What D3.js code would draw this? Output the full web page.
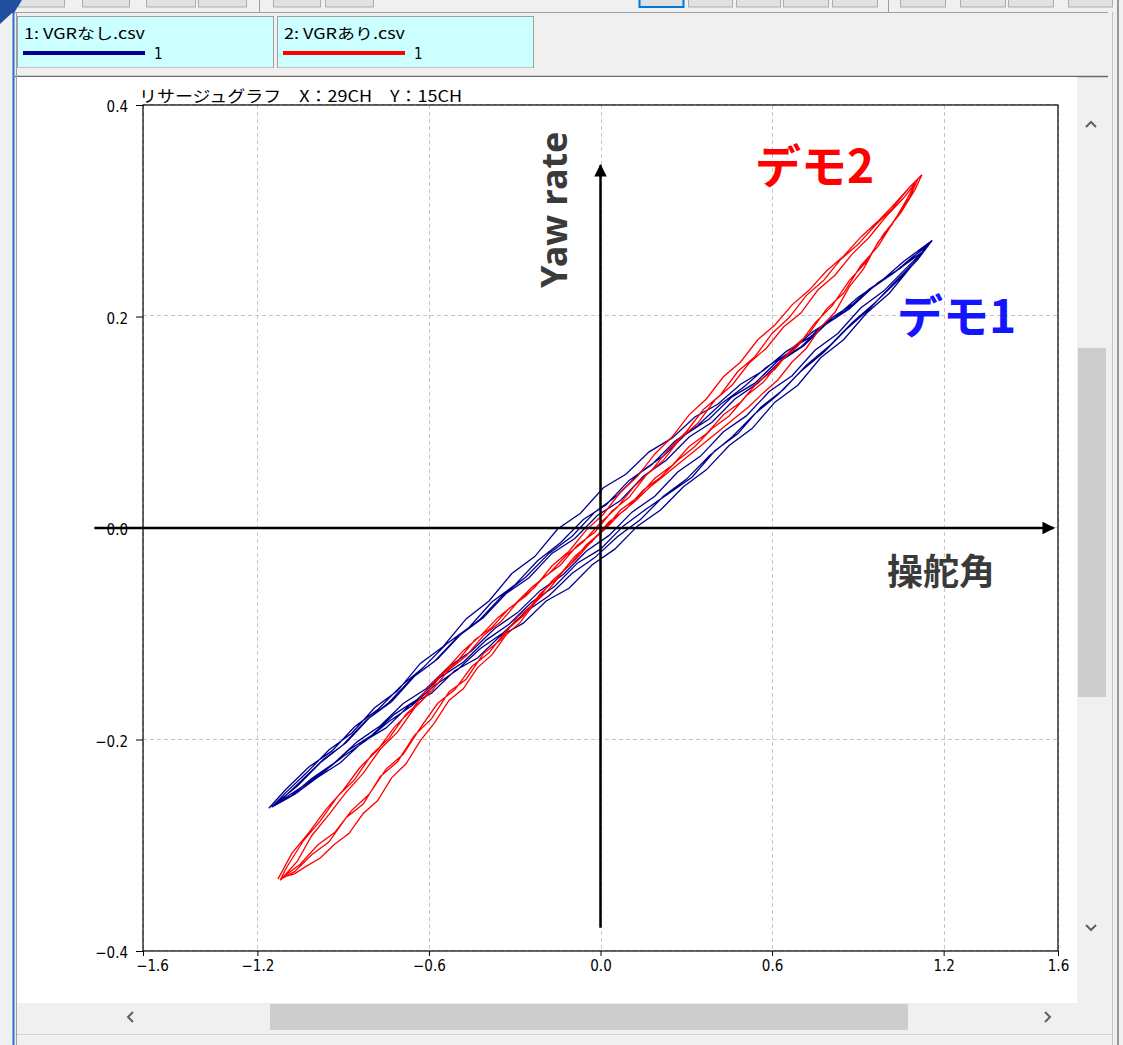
<!DOCTYPE html>
<html>
<head>
<meta charset="utf-8">
<script src="https://cdn.jsdelivr.net/npm/d3@7"></script>
<style>
  html, body { margin: 0; padding: 0; background: #f0f0f0; }
  svg { display: block; }
</style>
</head>
<body>
<svg id="lissajous" width="1123" height="1045"></svg>
<script>
// --- data ---
const fileNames = ["1: VGRなし.csv", "2: VGRあり.csv"];
const channelNumbers = ["1", "1"];
const chartTitle = "リサージュグラフ　X：29CH　Y：15CH";
const xTicks = [-1.6, -1.2, -0.6, 0.0, 0.6, 1.2, 1.6];
const yTicks = [-0.4, -0.2, 0.0, 0.2, 0.4];
const axisLabelX = "操舵角";
const axisLabelY = "Yaw rate";
const demoLabels = ["デモ1", "デモ2"];

// デモ1 (VGRなし): steering angle vs yaw rate, recorded cycles
const blueCycle1 = [
  [-1.16,-0.265],[-1.10,-0.247],[-1.02,-0.226],[-0.94,-0.211],[-0.86,-0.188],[-0.78,-0.172],[-0.70,-0.150],[-0.62,-0.132],
  [-0.54,-0.110],[-0.46,-0.094],[-0.38,-0.070],[-0.30,-0.054],[-0.22,-0.031],[-0.14,-0.014],[-0.06,0.008],[0.02,0.022],
  [0.10,0.045],[0.18,0.060],[0.26,0.082],[0.34,0.097],[0.42,0.117],[0.50,0.133],[0.58,0.152],[0.66,0.166],
  [0.74,0.185],[0.82,0.199],[0.90,0.218],[0.98,0.233],[1.06,0.252],[1.15,0.270],
  [1.10,0.252],[1.02,0.230],[0.94,0.207],[0.86,0.188],[0.78,0.166],[0.70,0.148],[0.62,0.126],[0.54,0.108],
  [0.46,0.086],[0.38,0.068],[0.30,0.046],[0.22,0.030],[0.14,0.008],[0.06,-0.008],[-0.02,-0.028],[-0.10,-0.043],
  [-0.18,-0.064],[-0.26,-0.079],[-0.34,-0.099],[-0.42,-0.114],[-0.50,-0.134],[-0.58,-0.149],[-0.66,-0.168],[-0.74,-0.183],
  [-0.82,-0.201],[-0.90,-0.216],[-0.98,-0.233],[-1.06,-0.250],[-1.14,-0.262]
];
const blueCycle2 = [
  [-1.12,-0.258],[-1.05,-0.240],[-0.97,-0.219],[-0.89,-0.203],[-0.81,-0.180],[-0.73,-0.164],[-0.65,-0.140],[-0.57,-0.124],
  [-0.49,-0.101],[-0.41,-0.085],[-0.33,-0.062],[-0.25,-0.047],[-0.17,-0.024],[-0.09,-0.010],[-0.01,0.012],[0.07,0.026],
  [0.15,0.049],[0.23,0.064],[0.31,0.086],[0.39,0.100],[0.47,0.122],[0.55,0.137],[0.63,0.158],[0.71,0.172],
  [0.79,0.193],[0.87,0.207],[0.95,0.227],[1.03,0.242],[1.13,0.262],
  [1.07,0.246],[0.99,0.224],[0.91,0.208],[0.83,0.184],[0.75,0.168],[0.67,0.144],[0.59,0.129],[0.51,0.106],
  [0.43,0.091],[0.35,0.068],[0.27,0.053],[0.19,0.030],[0.11,0.015],[0.03,-0.007],[-0.05,-0.022],[-0.13,-0.044],
  [-0.21,-0.059],[-0.29,-0.080],[-0.37,-0.095],[-0.45,-0.116],[-0.53,-0.131],[-0.61,-0.152],[-0.69,-0.166],[-0.77,-0.187],
  [-0.85,-0.202],[-0.93,-0.222],[-1.01,-0.237],[-1.09,-0.255],[-1.15,-0.264]
];
const blueCycle3 = [
  [-1.10,-0.250],[-1.03,-0.232],[-0.95,-0.210],[-0.87,-0.194],[-0.79,-0.170],[-0.71,-0.154],[-0.63,-0.128],[-0.55,-0.112],
  [-0.47,-0.086],[-0.39,-0.069],[-0.31,-0.043],[-0.23,-0.027],[-0.15,-0.001],[-0.07,0.014],[0.01,0.038],[0.09,0.051],
  [0.17,0.072],[0.25,0.085],[0.33,0.105],[0.41,0.117],[0.49,0.136],[0.57,0.149],[0.65,0.167],[0.73,0.180],
  [0.81,0.199],[0.89,0.213],[0.97,0.232],[1.05,0.246],[1.16,0.272],
  [1.11,0.254],[1.04,0.234],[0.96,0.213],[0.88,0.194],[0.80,0.172],[0.72,0.154],[0.64,0.131],[0.56,0.114],
  [0.48,0.089],[0.40,0.073],[0.32,0.048],[0.24,0.033],[0.16,0.018],[0.08,0.002],[0.00,-0.020],[-0.08,-0.033],
  [-0.16,-0.055],[-0.24,-0.070],[-0.32,-0.091],[-0.40,-0.106],[-0.48,-0.127],[-0.56,-0.141],[-0.64,-0.162],[-0.72,-0.176],
  [-0.80,-0.196],[-0.88,-0.210],[-0.96,-0.229],[-1.04,-0.244],[-1.13,-0.260]
];
const blueCycle4 = [
  [-1.14,-0.262],[-1.07,-0.252],[-0.99,-0.236],[-0.91,-0.222],[-0.83,-0.202],[-0.75,-0.189],[-0.67,-0.168],[-0.59,-0.156],
  [-0.51,-0.135],[-0.43,-0.123],[-0.35,-0.102],[-0.27,-0.090],[-0.19,-0.069],[-0.11,-0.057],[-0.03,-0.035],[0.05,-0.020],
  [0.13,0.002],[0.21,0.017],[0.29,0.039],[0.37,0.055],[0.45,0.078],[0.53,0.094],[0.61,0.119],[0.69,0.135],
  [0.77,0.161],[0.85,0.178],[0.93,0.203],[1.01,0.222],[1.08,0.245],[1.14,0.266],
  [1.09,0.256],[1.02,0.240],[0.94,0.226],[0.86,0.206],[0.78,0.192],[0.70,0.171],[0.62,0.158],[0.54,0.137],
  [0.46,0.124],[0.38,0.103],[0.30,0.089],[0.22,0.068],[0.14,0.053],[0.06,0.031],[-0.02,0.015],[-0.10,-0.008],
  [-0.18,-0.024],[-0.26,-0.046],[-0.34,-0.063],[-0.42,-0.086],[-0.50,-0.103],[-0.58,-0.126],[-0.66,-0.142],[-0.74,-0.165],
  [-0.82,-0.182],[-0.90,-0.205],[-0.98,-0.222],[-1.06,-0.244],[-1.13,-0.259]
];

// デモ2 (VGRあり)
const redCycle1 = [
  [-1.128,-0.332],[-1.08,-0.308],[-1.02,-0.288],[-0.96,-0.266],[-0.90,-0.248],[-0.84,-0.226],[-0.78,-0.210],[-0.72,-0.188],
  [-0.66,-0.172],[-0.60,-0.150],[-0.54,-0.134],[-0.48,-0.116],[-0.42,-0.102],[-0.36,-0.085],[-0.30,-0.072],[-0.24,-0.056],
  [-0.18,-0.043],[-0.12,-0.026],[-0.06,-0.013],[0.00,0.005],[0.06,0.020],[0.12,0.040],[0.18,0.055],[0.24,0.075],
  [0.30,0.091],[0.36,0.112],[0.42,0.126],[0.48,0.148],[0.54,0.162],[0.60,0.184],[0.66,0.199],[0.72,0.220],
  [0.78,0.234],[0.84,0.254],[0.90,0.268],[0.96,0.286],[1.02,0.302],[1.08,0.322],[1.124,0.334],
  [1.10,0.320],[1.05,0.298],[0.99,0.278],[0.93,0.252],[0.87,0.234],[0.81,0.210],[0.75,0.194],[0.69,0.172],
  [0.63,0.158],[0.57,0.138],[0.51,0.125],[0.45,0.106],[0.39,0.094],[0.33,0.077],[0.27,0.064],[0.21,0.048],
  [0.15,0.036],[0.09,0.018],[0.03,0.006],[-0.03,-0.013],[-0.09,-0.027],[-0.15,-0.047],[-0.21,-0.062],[-0.27,-0.083],
  [-0.33,-0.097],[-0.39,-0.118],[-0.45,-0.131],[-0.51,-0.153],[-0.57,-0.166],[-0.63,-0.189],[-0.69,-0.214],[-0.75,-0.228],
  [-0.81,-0.252],[-0.87,-0.267],[-0.93,-0.288],[-0.99,-0.300],[-1.05,-0.318],[-1.10,-0.328],[-1.12,-0.333]
];
const redCycle2 = [
  [-1.10,-0.322],[-1.04,-0.296],[-0.98,-0.277],[-0.92,-0.254],[-0.86,-0.238],[-0.80,-0.214],[-0.74,-0.199],[-0.68,-0.176],
  [-0.62,-0.162],[-0.56,-0.140],[-0.50,-0.126],[-0.44,-0.106],[-0.38,-0.094],[-0.32,-0.076],[-0.26,-0.064],[-0.20,-0.047],
  [-0.14,-0.035],[-0.08,-0.016],[-0.02,-0.004],[0.04,0.016],[0.10,0.029],[0.16,0.050],[0.22,0.064],[0.28,0.085],
  [0.34,0.099],[0.40,0.121],[0.46,0.135],[0.52,0.156],[0.58,0.170],[0.64,0.190],[0.70,0.203],[0.76,0.225],
  [0.82,0.239],[0.88,0.259],[0.94,0.275],[1.00,0.295],[1.06,0.312],[1.10,0.326],
  [1.07,0.310],[1.02,0.287],[0.97,0.270],[0.92,0.245],[0.87,0.228],[0.82,0.204],[0.77,0.190],[0.72,0.170],
  [0.67,0.157],[0.62,0.140],[0.57,0.128],[0.52,0.115],[0.47,0.104],[0.42,0.093],[0.37,0.082],[0.32,0.071],
  [0.27,0.060],[0.22,0.049],[0.17,0.038],[0.12,0.025],[0.07,0.014],[0.02,0.000],[-0.03,-0.012],[-0.08,-0.028],
  [-0.13,-0.041],[-0.18,-0.058],[-0.23,-0.071],[-0.28,-0.089],[-0.33,-0.101],[-0.38,-0.120],[-0.43,-0.132],[-0.48,-0.152],
  [-0.53,-0.163],[-0.58,-0.184],[-0.63,-0.201],[-0.68,-0.223],[-0.73,-0.236],[-0.78,-0.258],[-0.83,-0.270],[-0.88,-0.289],
  [-0.93,-0.299],[-0.98,-0.312],[-1.03,-0.320],[-1.07,-0.327],[-1.11,-0.330]
];
const redCycle3 = [
  [-1.06,-0.315],[-1.01,-0.291],[-0.95,-0.271],[-0.89,-0.250],[-0.83,-0.232],[-0.77,-0.209],[-0.71,-0.193],[-0.65,-0.170],
  [-0.59,-0.154],[-0.53,-0.134],[-0.47,-0.121],[-0.41,-0.102],[-0.35,-0.089],[-0.29,-0.070],[-0.23,-0.056],[-0.17,-0.036],
  [-0.11,-0.022],[-0.05,-0.002],[0.01,0.013],[0.07,0.034],[0.13,0.049],[0.19,0.070],[0.25,0.086],[0.31,0.107],
  [0.37,0.122],[0.43,0.143],[0.49,0.157],[0.55,0.178],[0.61,0.192],[0.67,0.211],[0.73,0.225],[0.79,0.243],
  [0.85,0.257],[0.91,0.275],[0.97,0.290],[1.03,0.307],[1.08,0.322],[1.11,0.330],
  [1.08,0.312],[1.03,0.292],[0.97,0.266],[0.91,0.248],[0.85,0.222],[0.79,0.207],[0.73,0.184],[0.67,0.170],
  [0.61,0.150],[0.55,0.138],[0.49,0.119],[0.43,0.107],[0.37,0.089],[0.31,0.077],[0.25,0.059],[0.19,0.047],
  [0.13,0.029],[0.07,0.017],[0.01,-0.002],[-0.05,-0.016],[-0.11,-0.036],[-0.17,-0.050],[-0.23,-0.071],[-0.29,-0.084],
  [-0.35,-0.106],[-0.41,-0.119],[-0.47,-0.143],[-0.53,-0.155],[-0.59,-0.180],[-0.65,-0.196],[-0.71,-0.221],[-0.77,-0.235],
  [-0.83,-0.261],[-0.89,-0.274],[-0.95,-0.297],[-1.01,-0.309],[-1.07,-0.325],[-1.11,-0.331]
];

const seriesColors = ["#00008f", "#ff0000"];
const series = [
  blueCycle1.concat(blueCycle2, blueCycle3, blueCycle4),
  redCycle1.concat(redCycle2, redCycle3)
];

// --- window chrome ---
const svg = d3.select("#lissajous");
const jpFont = "'Noto Sans CJK JP', 'Noto Sans', sans-serif";
const narrowFont = "'Liberation Sans Narrow', 'DejaVu Sans Condensed', 'Liberation Sans', sans-serif";

svg.append("rect").attr("width", 1123).attr("height", 1045).attr("fill", "#f0f0f0");

// toolbar buttons cut off at the top
const toolbarButtons = [[18,64],[82,129],[146,195],[198,246],[273,320],[325,373],
  [639,683],[688,732],[736,780],[783,828],[832,877],[900,945],[960,1005],[1008,1053],[1068,1112]];
svg.selectAll("rect.tb")
  .data(toolbarButtons)
  .enter()
  .append("rect")
  .attr("class", "tb")
  .attr("x", d => d[0] + 0.5).attr("y", -6)
  .attr("width", d => d[1] - d[0]).attr("height", 13)
  .attr("fill", "#e1e1e1")
  .attr("stroke", (d, i) => i === 6 ? "#0078d7" : "#adadad")
  .attr("stroke-width", (d, i) => i === 6 ? 2 : 1);
[259, 888].forEach(sx => {
  svg.append("line").attr("x1", sx + 0.5).attr("x2", sx + 0.5).attr("y1", 0).attr("y2", 12)
    .attr("stroke", "#a0a0a0");
});

// legend panel
svg.append("line").attr("x1", 15).attr("x2", 1108).attr("y1", 12.5).attr("y2", 12.5).attr("stroke", "#a0a0a0");
const legend = svg.selectAll("g.legend")
  .data(fileNames)
  .enter()
  .append("g")
  .attr("class", "legend")
  .attr("transform", (d, i) => `translate(${17 + i * 260},16)`);
legend.append("rect")
  .attr("x", 0.5).attr("y", 0.5).attr("width", 256).attr("height", 51)
  .attr("fill", "#ccffff").attr("stroke", "#a0a0a0");
legend.append("line")
  .attr("x1", 1).attr("x2", 256).attr("y1", 51).attr("y2", 51)
  .attr("stroke", "#e8e8e8").attr("stroke-width", 1);
legend.append("text")
  .attr("x", 7).attr("y", 23)
  .attr("textLength", 121).attr("lengthAdjust", "spacingAndGlyphs")
  .style("font-family", jpFont).style("font-size", "15px")
  .text(d => d);
legend.append("line")
  .attr("x1", 6).attr("x2", 128).attr("y1", 37).attr("y2", 37)
  .attr("stroke", (d, i) => seriesColors[i]).attr("stroke-width", 4);
legend.append("text")
  .attr("x", 137).attr("y", 43)
  .style("font-family", narrowFont).style("font-size", "15px")
  .text((d, i) => channelNumbers[i]);
svg.append("line").attr("x1", 15).attr("x2", 1108).attr("y1", 76.5).attr("y2", 76.5)
  .attr("stroke", "#6a6a6a").attr("stroke-width", 1.5);

// white drawing panel
svg.append("rect").attr("x", 17).attr("y", 77).attr("width", 1060).attr("height", 926).attr("fill", "#ffffff");

// vertical scrollbar
svg.append("rect").attr("x", 1077).attr("y", 108).attr("width", 30).attr("height", 885).attr("fill", "#f0f0f0");
svg.append("rect").attr("x", 1078).attr("y", 348).attr("width", 28).attr("height", 349).attr("fill", "#cdcdcd");
svg.append("path").attr("d", "M1086,127 L1091,122 L1096,127").attr("fill", "none").attr("stroke", "#606060").attr("stroke-width", 2);
svg.append("path").attr("d", "M1086,925 L1091,930 L1096,925").attr("fill", "none").attr("stroke", "#606060").attr("stroke-width", 2);

// horizontal scrollbar
svg.append("rect").attr("x", 17).attr("y", 1003).attr("width", 1060).attr("height", 28).attr("fill", "#f0f0f0");
svg.append("rect").attr("x", 270).attr("y", 1004).attr("width", 638).attr("height", 26).attr("fill", "#cdcdcd");
svg.append("path").attr("d", "M133,1012 L128,1017 L133,1022").attr("fill", "none").attr("stroke", "#606060").attr("stroke-width", 2);
svg.append("path").attr("d", "M1045,1012 L1050,1017 L1045,1022").attr("fill", "none").attr("stroke", "#606060").attr("stroke-width", 2);
svg.append("line").attr("x1", 15).attr("x2", 1112).attr("y1", 1034.5).attr("y2", 1034.5).attr("stroke", "#d0d0d0");

// window borders
svg.append("line").attr("x1", 1112.5).attr("x2", 1112.5).attr("y1", 12).attr("y2", 1045).attr("stroke", "#c4c4c4");
svg.append("line").attr("x1", 1118).attr("x2", 1118).attr("y1", 0).attr("y2", 1045).attr("stroke", "#7a7a7a").attr("stroke-width", 1.5);
svg.append("line").attr("x1", 16.5).attr("x2", 16.5).attr("y1", 12).attr("y2", 1045).attr("stroke", "#a0a0a0");
svg.append("line").attr("x1", 13.5).attr("x2", 13.5).attr("y1", 0).attr("y2", 1045).attr("stroke", "#2a6fc9").attr("stroke-width", 2);
svg.append("path").attr("d", "M0,0 L22,0 L14,13 L12,13 L0,24 Z").attr("fill", "#1f4f9e");

// --- chart ---
const x = d3.scaleLinear().domain([-1.6, 1.6]).range([143, 1058]);
const y = d3.scaleLinear().domain([-0.4, 0.4]).range([951, 105]);
const fmt = d3.format(".1f");

// grid
const grid = svg.append("g").attr("stroke", "#c6c6c6").attr("stroke-dasharray", "4,3").attr("stroke-width", 1);
grid.selectAll("line.gx").data(xTicks).enter().append("line")
  .attr("x1", d => Math.round(x(d)) + 0.5).attr("x2", d => Math.round(x(d)) + 0.5)
  .attr("y1", y(0.4)).attr("y2", y(-0.4));
grid.selectAll("line.gy").data(yTicks).enter().append("line")
  .attr("y1", d => Math.round(y(d)) - 0.5).attr("y2", d => Math.round(y(d)) - 0.5)
  .attr("x1", x(-1.6)).attr("x2", x(1.6));

// title
svg.append("text")
  .attr("x", 139).attr("y", 102)
  .attr("textLength", 323).attr("lengthAdjust", "spacingAndGlyphs")
  .style("font-family", jpFont).style("font-size", "16px")
  .text(chartTitle);

// series
const line = d3.line().x(d => x(d[0])).y(d => y(d[1]));
svg.selectAll("path.series")
  .data(series)
  .enter()
  .append("path")
  .attr("class", "series")
  .attr("d", line)
  .attr("fill", "none")
  .attr("stroke", (d, i) => seriesColors[i])
  .attr("stroke-width", 1.3)
  .attr("stroke-linejoin", "miter");

// axes
const xAxis = svg.append("g")
  .attr("transform", `translate(0,${y(-0.4)})`)
  .call(d3.axisBottom(x).tickValues(xTicks).tickFormat(fmt).tickSize(5).tickPadding(4));
const yAxis = svg.append("g")
  .attr("transform", `translate(${x(-1.6)},0)`)
  .call(d3.axisLeft(y).tickValues(yTicks).tickFormat(fmt).tickSize(7).tickPadding(8));
[xAxis, yAxis].forEach(g => {
  g.select(".domain").remove();
  g.selectAll(".tick line").attr("stroke", "#000");
  g.selectAll("text")
    .style("font-family", narrowFont)
    .style("font-size", "15px")
    .attr("fill", "#000");
});
// first x label is pushed inside like the original
xAxis.selectAll(".tick text").filter(d => d === -1.6).attr("dx", 9);
yAxis.selectAll(".tick text").attr("dy", "0.45em");

svg.append("rect")
  .attr("x", x(-1.6)).attr("y", y(0.4))
  .attr("width", x(1.6) - x(-1.6)).attr("height", y(-0.4) - y(0.4))
  .attr("fill", "none").attr("stroke", "#000").attr("stroke-width", 1.2);

// overlaid arrows and annotations
const defs = svg.append("defs");
defs.append("marker")
  .attr("id", "arrowhead")
  .attr("viewBox", "0 0 10 10")
  .attr("refX", 9).attr("refY", 5)
  .attr("markerWidth", 6).attr("markerHeight", 5)
  .attr("orient", "auto")
  .append("path").attr("d", "M0,0 L10,5 L0,10 Z").attr("fill", "#000");

svg.append("line")
  .attr("x1", x(-1.77)).attr("x2", x(1.585))
  .attr("y1", y(0)).attr("y2", y(0))
  .attr("stroke", "#000").attr("stroke-width", 2.5)
  .attr("marker-end", "url(#arrowhead)");
svg.append("line")
  .attr("x1", x(0)).attr("x2", x(0))
  .attr("y1", y(-0.378)).attr("y2", y(0.343))
  .attr("stroke", "#000").attr("stroke-width", 2.5)
  .attr("marker-end", "url(#arrowhead)");

svg.append("text")
  .attr("transform", `translate(${x(0) - 34},${y(0.301)}) rotate(-90)`)
  .attr("text-anchor", "middle")
  .style("font-family", "'Noto Sans', sans-serif").style("font-size", "36px").style("font-weight", "bold")
  .attr("fill", "#3a3a3a")
  .text(axisLabelY);
svg.append("text")
  .attr("x", 887).attr("y", 585)
  .style("font-family", jpFont).style("font-size", "36px").style("font-weight", "bold")
  .attr("fill", "#3a3a3a")
  .text(axisLabelX);
svg.append("text")
  .attr("x", 755).attr("y", 183)
  .style("font-family", jpFont).style("font-size", "46px").style("font-weight", "bold")
  .attr("fill", "#ff0000")
  .text(demoLabels[1]);
svg.append("text")
  .attr("x", 897).attr("y", 333)
  .style("font-family", jpFont).style("font-size", "46px").style("font-weight", "bold")
  .attr("fill", "#1414ff")
  .text(demoLabels[0]);
</script>
</body>
</html>
